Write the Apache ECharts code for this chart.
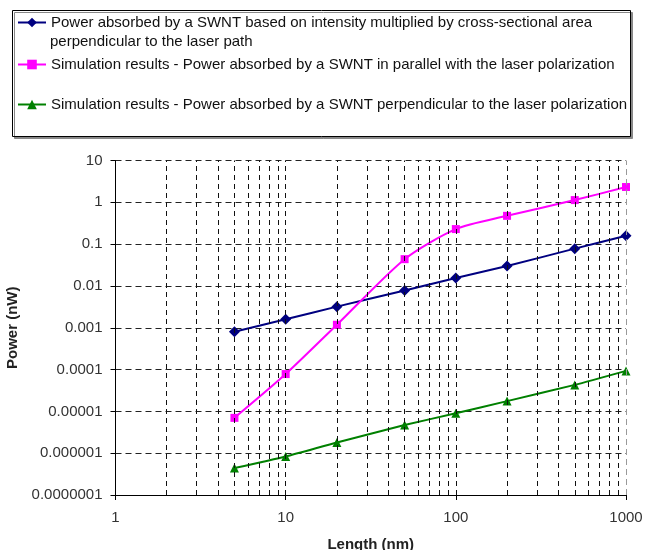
<!DOCTYPE html>
<html>
<head>
<meta charset="utf-8">
<script src="https://cdn.jsdelivr.net/npm/echarts@6/dist/echarts.min.js"></script>
<style>
html,body{margin:0;padding:0;background:#fff;}
#c{width:646px;height:550px;}
</style>
</head>
<body>
<div id="c"></div>
<script>
var lengths = [5, 10, 20, 50, 100, 200, 500, 1000];
var intensityArea = [0.0008, 0.0016, 0.0032, 0.0078, 0.0155, 0.030, 0.078, 0.158];
var simParallel = [0.000007, 0.000078, 0.00118, 0.0437, 0.229, 0.475, 1.13, 2.32];
var simPerpendicular = [0.00000044, 0.00000083, 0.0000018, 0.0000047, 0.0000090, 0.0000176, 0.000043, 0.000093];
var seriesNames = [
  'Power absorbed by a SWNT based on intensity multiplied by cross-sectional area perpendicular to the laser path',
  'Simulation results - Power absorbed by a SWNT in parallel with the laser polarization',
  'Simulation results - Power absorbed by a SWNT perpendicular to the laser polarization'
];
var legendLine1 = 'Power absorbed by a SWNT based on intensity multiplied by cross-sectional area';
var legendLine2 = 'perpendicular to the laser path';
var yTickLabels = ['0.0000001', '0.000001', '0.00001', '0.0001', '0.001', '0.01', '0.1', '1', '10'];
var xTickLabels = ['1', '10', '100', '1000'];
var xGridValues = [2,3,4,5,6,7,8,9,10,20,30,40,50,60,70,80,90,100,200,300,400,500,600,700,800,900];

function pairs(ys){ return lengths.map(function(x,i){ return [x, ys[i]]; }); }

var chart = echarts.init(document.getElementById('c'), null, {renderer:'canvas'});
var font = 'Liberation Sans, Arial, sans-serif';

var legendCommon = {
  orient: 'vertical',
  padding: 0,
  itemWidth: 28,
  itemHeight: 12,
  textStyle: {fontFamily: font, fontSize: 15, color: '#111'}
};

chart.setOption({
  animation: false,
  backgroundColor: '#fff',
  grid: {left: 115.5, right: 20, top: 160.5, bottom: 55, containLabel: false, outerBoundsMode: 'none'},
  graphic: [
    {type: 'rect', z: -1, shape: {x: 12.5, y: 10.5, width: 618, height: 126},
     style: {fill: '#fff', stroke: '#000', lineWidth: 1, shadowColor: '#888', shadowOffsetX: 2, shadowOffsetY: 2, shadowBlur: 0}},
    {type: 'text', left: 50, top: 34, style: {text: legendLine2, font: '15px ' + font, fill: '#111'}}
  ],
  legend: [
    Object.assign({left: 17, top: 15, data: [seriesNames[0]], formatter: function(){ return legendLine1; }}, legendCommon),
    Object.assign({left: 17, top: 57, data: [seriesNames[1]]}, legendCommon),
    Object.assign({left: 17, top: 97, data: [seriesNames[2]]}, legendCommon)
  ],
  xAxis: {
    type: 'log', logBase: 10, min: 1, max: 1000, splitNumber: 3,
    name: 'Length (nm)', nameLocation: 'middle', nameGap: 42,
    nameTextStyle: {fontFamily: font, fontSize: 15, fontWeight: 'bold', color: '#222'},
    axisLine: {show: true, lineStyle: {color: '#000', width: 1}},
    axisTick: {show: true, length: 5, lineStyle: {color: '#000'}},
    axisLabel: {fontFamily: font, fontSize: 15, color: '#333', margin: 15,
      formatter: function(v){ return xTickLabels[Math.round(Math.log10(v))]; }},
    splitLine: {show: false}
  },
  yAxis: {
    type: 'log', logBase: 10, min: 1e-7, max: 10, splitNumber: 8,
    name: 'Power (nW)', nameLocation: 'middle', nameGap: 93, nameRotate: 90,
    nameTextStyle: {fontFamily: font, fontSize: 15, fontWeight: 'bold', color: '#222'},
    axisLine: {show: true, lineStyle: {color: '#000', width: 1}},
    axisTick: {show: true, length: 5, lineStyle: {color: '#000'}},
    axisLabel: {fontFamily: font, fontSize: 15, color: '#333', margin: 13,
      formatter: function(v){ return yTickLabels[Math.round(Math.log10(v)) + 7]; }},
    splitLine: {show: true, lineStyle: {color: '#222', type: [6, 4], width: 1}}
  },
  series: [
    {
      type: 'line', data: [], z: 1, silent: true,
      markLine: {
        silent: true, symbol: 'none', label: {show: false},
        lineStyle: {color: '#111', type: [5, 4], width: 1},
        data: xGridValues.map(function(v){ return {xAxis: v}; }).concat([{xAxis: 1000, lineStyle: {color: '#999', type: [6, 4], width: 1}}])
      }
    },
    {
      name: seriesNames[0], type: 'line', z: 3, data: pairs(intensityArea),
      symbol: 'diamond', symbolSize: 11, smooth: 0.2,
      lineStyle: {color: '#000080', width: 2}, itemStyle: {color: '#000080'}
    },
    {
      name: seriesNames[1], type: 'line', z: 3, data: pairs(simParallel),
      symbol: 'rect', symbolSize: 8, smooth: 0.25,
      lineStyle: {color: '#FF00FF', width: 2}, itemStyle: {color: '#FF00FF'}
    },
    {
      name: seriesNames[2], type: 'line', z: 3, data: pairs(simPerpendicular),
      symbol: 'triangle', symbolSize: 9, smooth: 0.2,
      lineStyle: {color: '#008000', width: 2}, itemStyle: {color: '#008000'}
    }
  ]
});
</script>
</body>
</html>
